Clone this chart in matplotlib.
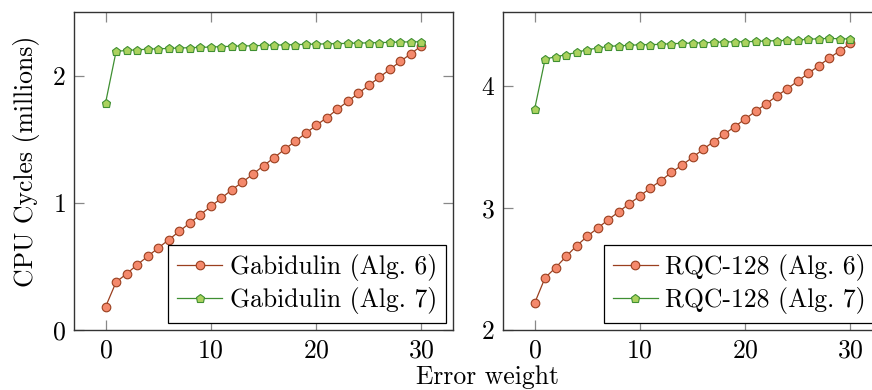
import matplotlib
matplotlib.use("Agg")
import matplotlib.pyplot as plt

plt.rcParams['font.family'] = 'serif'
plt.rcParams['font.serif'] = ['cmr10']
plt.rcParams['mathtext.fontset'] = 'cm'
plt.rcParams['axes.formatter.use_mathtext'] = True
FS = 18.5
plt.rcParams['font.size'] = FS

weights = list(range(31))

gab_alg6 = [0.183, 0.378, 0.443, 0.514, 0.580, 0.646, 0.711, 0.777, 0.843, 0.908,
            0.974, 1.039, 1.105, 1.165, 1.228, 1.294, 1.357, 1.423, 1.486, 1.549,
            1.612, 1.672, 1.738, 1.801, 1.864, 1.927, 1.990, 2.053, 2.116, 2.176, 2.239]
gab_alg7 = [1.79, 2.195, 2.202, 2.207, 2.212, 2.215, 2.218, 2.221, 2.224, 2.226,
            2.229, 2.232, 2.235, 2.237, 2.239, 2.242, 2.244, 2.246, 2.248, 2.250,
            2.252, 2.254, 2.256, 2.258, 2.260, 2.262, 2.264, 2.266, 2.268, 2.270, 2.270]
rqc_alg6 = [2.219, 2.429, 2.511, 2.604, 2.691, 2.768, 2.836, 2.904, 2.970, 3.035,
            3.098, 3.164, 3.225, 3.292, 3.352, 3.415, 3.481, 3.544, 3.604, 3.667,
            3.730, 3.793, 3.855, 3.918, 3.978, 4.041, 4.104, 4.166, 4.230, 4.289, 4.350]
rqc_alg7 = [3.809, 4.221, 4.240, 4.257, 4.276, 4.298, 4.311, 4.325, 4.330, 4.333,
            4.339, 4.339, 4.342, 4.347, 4.350, 4.352, 4.355, 4.358, 4.361, 4.363,
            4.363, 4.366, 4.369, 4.372, 4.374, 4.377, 4.383, 4.388, 4.390, 4.388, 4.385]

labels_left = ["Gabidulin (Alg. 6)", "Gabidulin (Alg. 7)"]
labels_right = ["RQC-128 (Alg. 6)", "RQC-128 (Alg. 7)"]
xticks = [0, 10, 20, 30]

orange_line = '#9a3f1f'
orange_fill = '#f4896c'
green_line = '#3f8f32'
green_fill = '#abd25e'

fig = plt.figure(figsize=(8.72, 3.9), dpi=100)
ax1 = fig.add_axes([74/872, 60/390, 379/872, 318/390])
ax2 = fig.add_axes([503/872, 60/390, 379/872, 318/390])

def style(ax):
    for s in ax.spines.values():
        s.set_color('#333333')
        s.set_linewidth(1.0)
    ax.tick_params(direction='in', length=7, width=0.9, color='#888888',
                   top=True, right=True, pad=6.0, labelsize=FS)

for ax, a6, a7, labs in [(ax1, gab_alg6, gab_alg7, labels_left),
                         (ax2, rqc_alg6, rqc_alg7, labels_right)]:
    ax.plot(weights, a6, '-', color=orange_line, lw=0.9, marker='o', ms=6.2,
            mfc=orange_fill, mec=orange_line, mew=0.8, label=labs[0])
    ax.plot(weights, a7, '-', color=green_line, lw=0.9, marker='p', ms=6.4,
            mfc=green_fill, mec=green_line, mew=0.8, label=labs[1])
    ax.set_xlim(-3, 33)
    ax.set_xticks(xticks)
    style(ax)
    leg = ax.legend(loc='lower right', fancybox=False, framealpha=1,
                    edgecolor='black', borderpad=0.35, handlelength=1.75,
                    handletextpad=0.3, labelspacing=0.25, borderaxespad=0.27,
                    fontsize=FS)
    leg.get_frame().set_linewidth(0.9)

ax1.set_ylim(0, 2.505)
ax1.set_yticks([0, 1, 2])
ax2.set_ylim(2, 4.607)
ax2.set_yticks([2, 3, 4])

fig.text(26/872, (390-161.5)/390, "CPU Cycles (millions)", rotation=90,
         ha='center', va='center', fontsize=FS)
fig.text(416/872, 1/390, "Error weight", ha='left', va='bottom', fontsize=FS)

fig.savefig("out.png", dpi=100)
